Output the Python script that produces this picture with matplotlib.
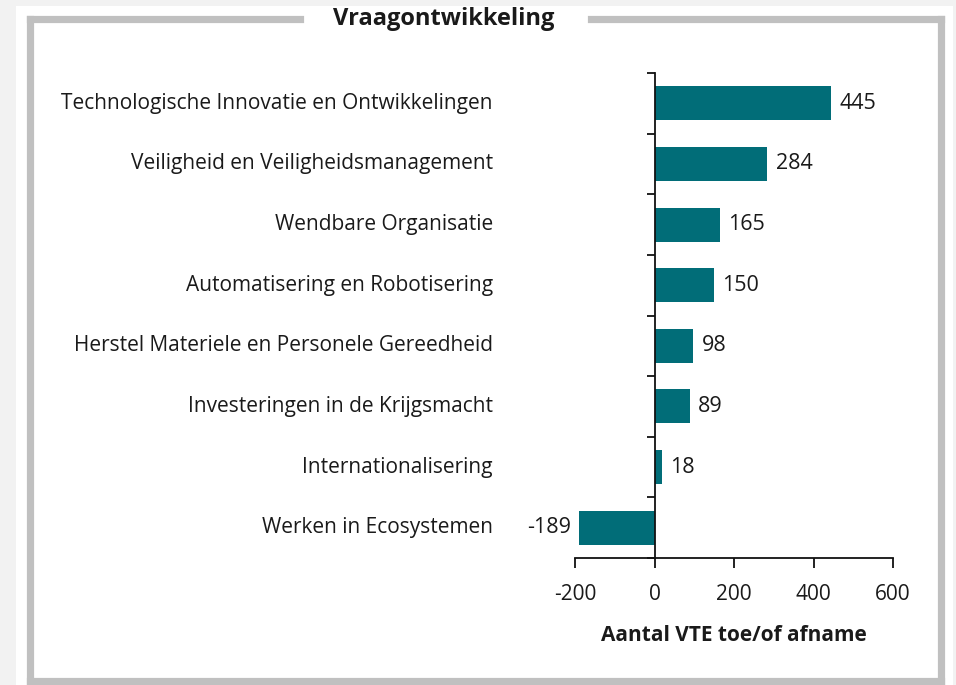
import matplotlib.pyplot as plt
from matplotlib.patches import Rectangle
from matplotlib.lines import Line2D

plt.rcParams['font.family'] = ['Open Sans', 'DejaVu Sans']

# data, top to bottom
themes = ['Technologische Innovatie en Ontwikkelingen',
          'Veiligheid en Veiligheidsmanagement',
          'Wendbare Organisatie',
          'Automatisering en Robotisering',
          'Herstel Materiele en Personele Gereedheid',
          'Investeringen in de Krijgsmacht',
          'Internationalisering',
          'Werken in Ecosystemen']
values = [445, 284, 165, 150, 98, 89, 18, -189]
xticks = [-200, 0, 200, 400, 600]

teal = '#016d78'
txt = '#1a1a1a'
grey = '#c0c0c0'
W, H = 956, 685

fig = plt.figure(figsize=(W/100, H/100), dpi=100)
fig.patch.set_facecolor('white')

# light grey page around the frame
for (x0, y0, w, h) in [(0, 0, 16, H), (0, H-6, W, 6), (953, 0, 3, H)]:
    fig.add_artist(Rectangle((x0/W, y0/H), w/W, h/H, transform=fig.transFigure,
                             facecolor='#f2f2f2', edgecolor='none'))

# frame with gap for the title
def fline(xs, ys):
    fig.add_artist(Line2D([x/W for x in xs], [1-y/H for y in ys], transform=fig.transFigure,
                          color=grey, lw=5.2, solid_capstyle='projecting'))
fline([29.5, 29.5], [18.5, 681])
fline([29.5, 940.5], [681, 681])
fline([940.5, 940.5], [18.5, 681])
fline([29.5, 300], [18.5, 18.5])
fline([591, 940.5], [18.5, 18.5])
fig.text(444/W, 1-19/H, 'Vraagontwikkeling', ha='center', va='center',
         fontsize=17, fontweight='bold', color=txt)

ax = fig.add_axes([575/W, 1-558/H, 318/W, 485/H])
n = len(themes)
ypos = list(range(n))
ax.barh(ypos, values, height=0.56, color=teal)
ax.set_xlim(-200, 600)
ax.set_ylim(n-0.5, -0.5)

ax.spines['top'].set_visible(False)
ax.spines['right'].set_visible(False)
ax.spines['left'].set_position(('data', 0))
for s in ['left', 'bottom']:
    ax.spines[s].set_linewidth(1.3)
    ax.spines[s].set_color('#111111')

ax.set_yticks([i - 0.5 for i in range(n+1)])
ax.set_yticklabels([])
ax.tick_params(axis='y', direction='out', length=6, width=1.3, color='#111111')
ax.set_xticks(xticks)
ax.set_xticklabels([str(v) for v in xticks])
ax.tick_params(axis='x', direction='out', length=7, width=1.3, color='#111111',
               labelsize=15, labelcolor=txt, pad=12)
ax.set_xlabel('Aantal VTE toe/of afname', fontsize=15, fontweight='bold', color=txt, labelpad=14)

for i, (name, v) in enumerate(zip(themes, values)):
    ax.text(-0.258, i, name, transform=ax.get_yaxis_transform(), ha='right', va='center',
            fontsize=15, color=txt)
    if v >= 0:
        ax.annotate(str(v), (v, i), xytext=(6, 0), textcoords='offset points',
                    ha='left', va='center', fontsize=15.5, color=txt)
    else:
        ax.annotate(str(v), (v, i), xytext=(-6, 0), textcoords='offset points',
                    ha='right', va='center', fontsize=15.5, color=txt)

fig.savefig('out.png', dpi=100)
